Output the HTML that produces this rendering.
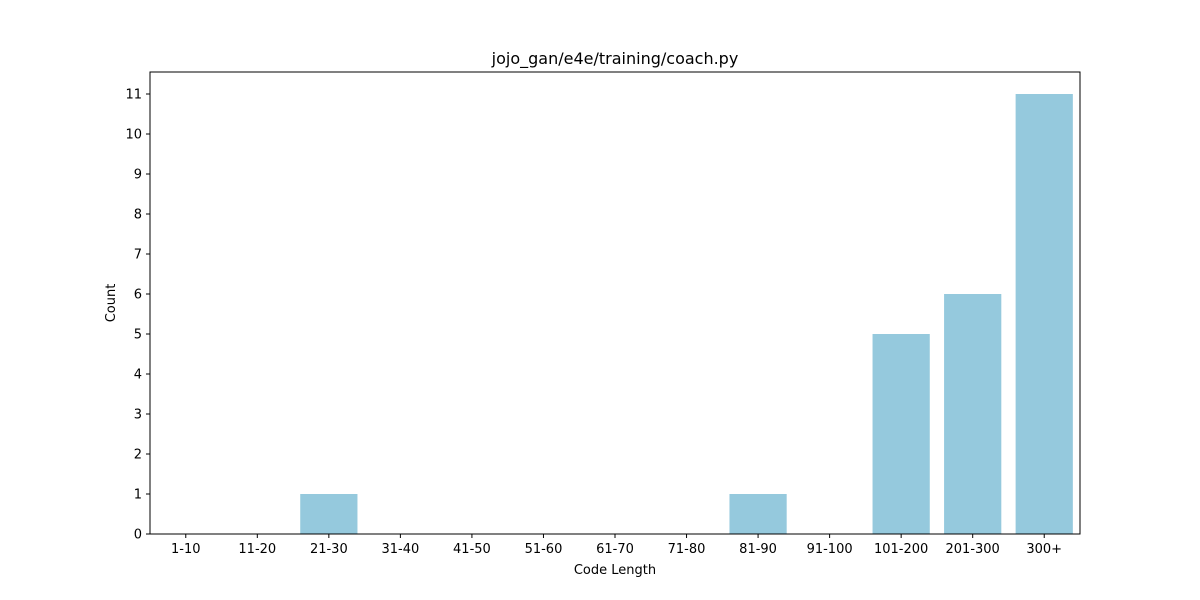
<!DOCTYPE html>
<html><head><meta charset="utf-8"><style>body{margin:0;background:#fff}svg{display:block;font-family:"DejaVu Sans","Liberation Sans",sans-serif}</style></head>
<body>
<svg id="chart" width="1200" height="600">
<rect width="1200" height="600" fill="#fff"/>
<text x="615" y="64" text-anchor="middle" font-size="16">jojo_gan/e4e/training/coach.py</text>
<g id="bars"></g>
<g id="axes"></g>
<text x="615" y="574" text-anchor="middle" font-size="13">Code Length</text>
<text x="0" y="0" transform="translate(115,303) rotate(-90)" text-anchor="middle" font-size="13">Count</text>
</svg>
<script>
const categories = ["1-10","11-20","21-30","31-40","41-50","51-60","61-70","71-80","81-90","91-100","101-200","201-300","300+"];
const counts = [0,0,1,0,0,0,0,0,1,0,5,6,11];
const yTicks = [0,1,2,3,4,5,6,7,8,9,10,11];
const L=150,R=1080,T=72,B=534,yMax=11.55;
const band=(R-L)/categories.length;
const x=i=>L+band*(i+0.5);
const y=v=>B-(B-T)*v/yMax;
const NS="http://www.w3.org/2000/svg";
const bars=document.getElementById('bars'), axes=document.getElementById('axes');
function mk(tag,attrs,parent){const e=document.createElementNS(NS,tag);for(const k in attrs)e.setAttribute(k,attrs[k]);parent.appendChild(e);return e;}
counts.forEach((v,i)=>{
  const r=mk('rect',{x:x(i)-band*0.4,y:y(v),width:band*0.8,height:B-y(v),fill:'#95c9dd'},bars);
  
  
});
const f=mk('rect',{x:L,y:T,width:R-L,height:B-T,fill:'none',stroke:'#000','stroke-width':1},axes);


categories.forEach((c,i)=>{
  mk('line',{x1:x(i),x2:x(i),y1:B,y2:B+4,stroke:'#000'},axes);
  const t=mk('text',{x:x(i),y:B+19,'text-anchor':'middle','font-size':13},axes);
  t.textContent=c;
  
  
});
yTicks.forEach(v=>{
  mk('line',{x1:L-4,x2:L,y1:y(v),y2:y(v),stroke:'#000'},axes);
  const t=mk('text',{x:L-8,y:y(v)+4.5,'text-anchor':'end','font-size':13},axes);
  t.textContent=v;
  
  
});
</script>
</body></html>
